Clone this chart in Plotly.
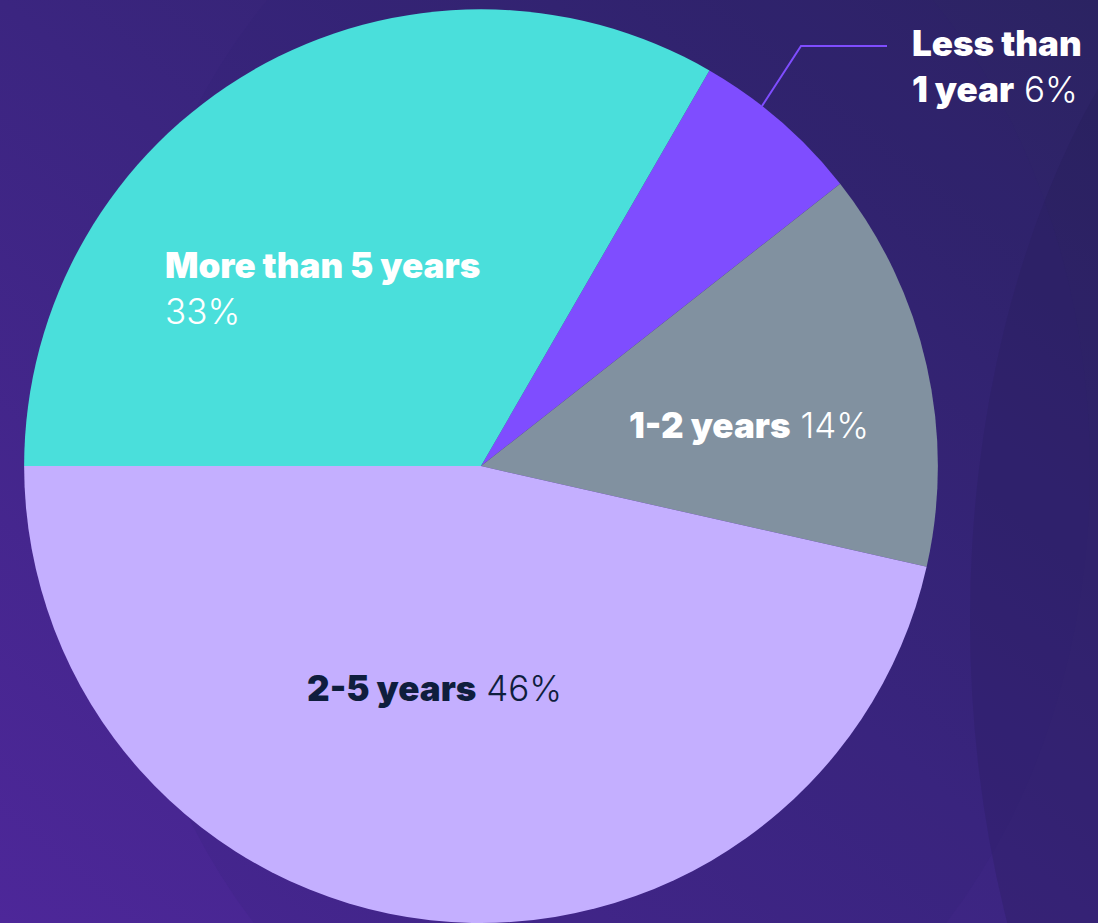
import base64
import plotly.graph_objects as go

# ---- data ----
categories = ["Less than 1 year", "1-2 years", "2-5 years", "More than 5 years"]
bold_labels = ["Less than<br>1 year", "1-2 years", "2-5 years", "More than 5 years"]
values = [6, 14, 46, 33]
pct_labels = ["6%", "14%", "46%", "33%"]

# ---- styles ----
colors = ["#7F4DFF", "#8191A0", "#C4AFFF", "#4ADFDB"]
text_colors = ["#FFFFFF", "#FFFFFF", "#0F1E3D", "#FFFFFF"]
FONT = "Inter"

W, H = 1098, 923

svg = f"""<svg xmlns='http://www.w3.org/2000/svg' width='{W}' height='{H}' viewBox='0 0 {W} {H}'>
<defs>
<linearGradient id='g' x1='0' y1='1' x2='1' y2='0'>
<stop offset='0' stop-color='#4d2799'/>
<stop offset='0.5' stop-color='#3b2580'/>
<stop offset='1' stop-color='#2b2362'/>
</linearGradient>
</defs>
<rect width='{W}' height='{H}' fill='url(#g)'/>
<ellipse cx='1420' cy='620' rx='450' ry='760' fill='#221c52' fill-opacity='0.25'/>
<ellipse cx='600' cy='470' rx='490' ry='640' fill='#2e2270' fill-opacity='0.15'/>
</svg>"""
bg_uri = "data:image/svg+xml;base64," + base64.b64encode(svg.encode()).decode()

fig = go.Figure(
    go.Pie(
        labels=categories,
        values=values,
        sort=False,
        direction="clockwise",
        rotation=30,
        marker=dict(colors=colors, line=dict(width=0)),
        textinfo="none",
        hoverinfo="label+percent",
        showlegend=False,
        domain=dict(x=[22 / W, 940 / W], y=[0.0, 0.99]),
    )
)

# label placements (layout, paper pixels)
label_pos = {
    "More than 5 years": dict(x=163, y=242, xanchor="left", yanchor="top", align="left"),
    "1-2 years": dict(x=749, y=425, xanchor="center", yanchor="middle", align="center"),
    "2-5 years": dict(x=434, y=688, xanchor="center", yanchor="middle", align="center"),
    "Less than 1 year": dict(x=910, y=20, xanchor="left", yanchor="top", align="left"),
}

annotations = []
for cat, bl, pct, tc in zip(categories, bold_labels, pct_labels, text_colors):
    p = label_pos[cat]
    sep = "<br>" if cat == "More than 5 years" else " "
    parts = bl.split("<br>")
    bold_txt = "<br>".join(f"<span style='font-weight:900'>{t}</span>" for t in parts)
    annotations.append(
        dict(
            text=f"{bold_txt}{sep}{pct}",
            x=p["x"] / W,
            y=1 - p["y"] / H,
            xref="paper",
            yref="paper",
            xanchor=p["xanchor"],
            yanchor=p["yanchor"],
            align=p["align"],
            showarrow=False,
            font=dict(family=FONT, size=35, color=tc, weight=300),
        )
    )

# leader line for the small slice
fig.add_shape(
    type="path",
    path=f"M {762/W} {1-106/H} L {801/W} {1-46/H} L {887/W} {1-46/H}",
    xref="paper",
    yref="paper",
    line=dict(color="#7F4DFF", width=2),
)

fig.update_layout(
    width=W,
    height=H,
    margin=dict(l=0, r=0, t=0, b=0),
    paper_bgcolor="#3a2480",
    plot_bgcolor="rgba(0,0,0,0)",
    annotations=annotations,
    images=[
        dict(
            source=bg_uri,
            xref="paper",
            yref="paper",
            x=0,
            y=1,
            sizex=1,
            sizey=1,
            xanchor="left",
            yanchor="top",
            sizing="stretch",
            layer="below",
        )
    ],
)

fig.write_html(
    "out.html",
    config={"displayModeBar": False},
    post_script="document.body.style.margin='0';document.body.style.overflow='hidden';",
)
